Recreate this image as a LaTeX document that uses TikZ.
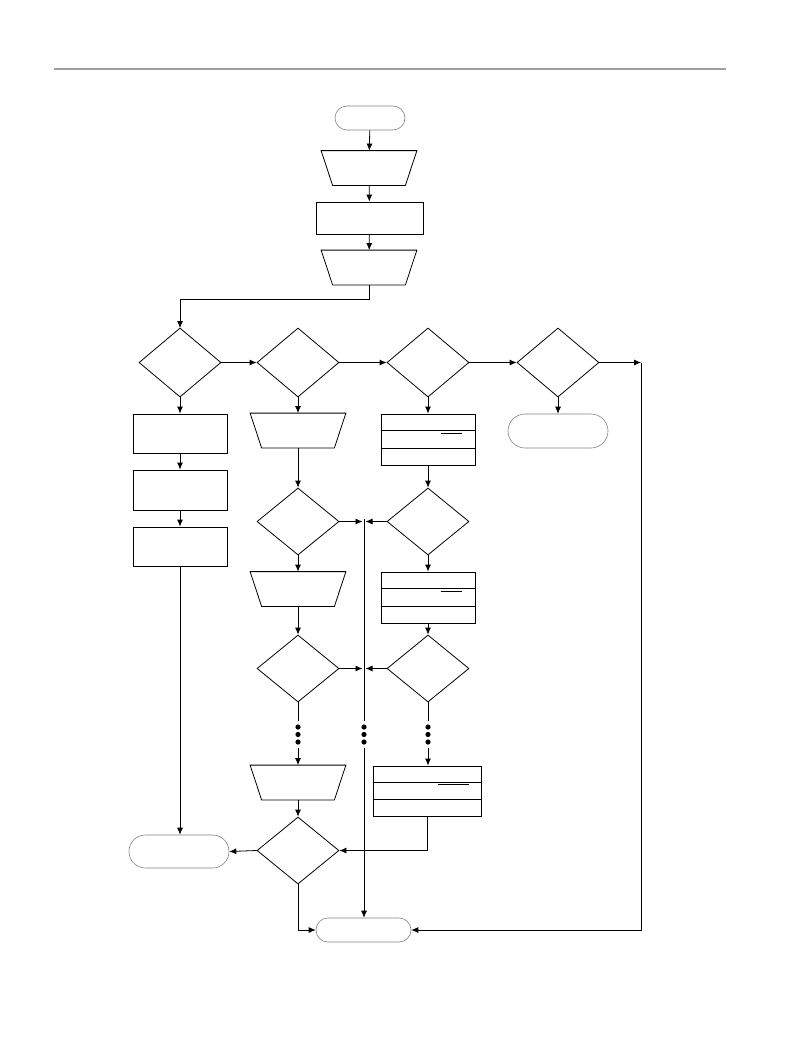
\documentclass[tikz,border=0pt]{standalone}
\usetikzlibrary{shapes.geometric,arrows.meta,calc}
\begin{document}
\begin{tikzpicture}[x=1pt,y=-1pt,line width=0.8pt,>={Latex[length=7pt,width=6pt]},
dec/.style={draw,diamond,minimum width=82pt,minimum height=69pt,inner sep=1pt},
iobox/.style={rectangle,inner sep=0pt,minimum width=95pt,minimum height=34pt},
proc/.style={draw,rectangle,inner sep=0pt,minimum width=94pt,minimum height=39pt},
term/.style={draw=gray,line width=0.6pt,rectangle,inner sep=0pt,rounded corners=#1},
term/.default=12pt]
\def\io#1#2{
\node[iobox] (#1) at (#2) {};
\draw (#1.north west) -- (#1.north east) -- ([xshift=-11.5pt]#1.south east) -- ([xshift=11.5pt]#1.south west) -- cycle;
}
\useasboundingbox (0,0) rectangle (802,1038);
\draw[gray!75,line width=1.6pt] (54,69) -- (726,69);
% top chain
\node[term,minimum width=70pt,minimum height=24pt] (sT) at (370,118) {};
\io{t1}{369,168}
\node[proc,minimum width=107pt,minimum height=32pt] (p0) at (369.5,218) {};
\io{t2}{369,267.5}
\draw[->] (sT) -- (t1);
\draw[->] (t1) -- (p0);
\draw[->] (p0) -- (t2);
\draw[->] (t2.south) -- ++(0,14) -| (180,328);
% decision row
\node[dec] (d1) at (180,362.5) {};
\node[dec] (d2) at (298,362.5) {};
\node[dec] (d3) at (428,362.5) {};
\node[dec] (d4) at (558,362.5) {};
\draw[->] (d1) -- (d2);
\draw[->] (d2) -- (d3);
\draw[->] (d3) -- (d4);
\coordinate (rc) at (641,362.5);
\draw[->] (d4.east) -- (rc);
% left column
\node[proc] (p1) at (180,433.5) {};
\node[proc,minimum height=40pt] (p2) at (180,490) {};
\node[proc] (p3) at (180,546.5) {};
\node[term=16.5pt,minimum width=100pt,minimum height=33pt] (lT) at (179,851.5) {};
\draw[->] (d1) -- (p1);
\draw[->] (p1) -- (p2);
\draw[->] (p2) -- (p3);
\draw[->] (p3.south) -- (p3.south |- lT.north);
% right terminal
\node[term=17pt,minimum width=100pt,minimum height=34pt] (rT) at (558,431) {};
\draw[->] (d4) -- (rT);
% second column
\io{tA}{298,430.5}
\node[dec,minimum height=67pt] (dB) at (298,521.5) {};
\io{tC}{298,589}
\node[dec,minimum height=67pt] (dD) at (298,668.5) {};
\io{tE}{298,782.5}
\node[dec,minimum height=67pt] (dF) at (298,850.5) {};
\draw[->] (d2) -- (tA);
\draw[->] (tA) -- (dB);
\draw[->] (dB) -- (tC);
\draw[->] (tC) -- (dD);
\draw[->] (tE) -- (dF);
\draw[->] (dF.west) -- (lT.east);
% third column
\node[proc,minimum height=51pt] (b1) at (428,439.5) {};
\node[dec,minimum height=67pt] (dG) at (428,521.5) {};
\node[proc,minimum height=51pt] (b2) at (428,597.5) {};
\node[dec,minimum height=67pt] (dH) at (428,668.5) {};
\node[proc,minimum width=108pt,minimum height=50pt] (b3) at (427,791) {};
\foreach \b in {b1,b2,b3}{
\draw ($(\b.north west)!1/3!(\b.south west)$) -- ($(\b.north east)!1/3!(\b.south east)$);
\draw ($(\b.north west)!2/3!(\b.south west)$) -- ($(\b.north east)!2/3!(\b.south east)$);
}
\draw[line width=0.6pt] ($(b1.north west)+(60,20)$) -- ($(b1.north west)+(81,20)$);
\draw[line width=0.6pt] ($(b2.north west)+(60,20)$) -- ($(b2.north west)+(81,20)$);
\draw[line width=0.6pt] ($(b3.north west)+(65,19)$) -- ($(b3.north west)+(96,19)$);
\draw[->] (d3) -- (b1);
\draw[->] (b1) -- (dG);
\draw[->] (dG) -- (b2);
\draw[->] (b2) -- (dH);
\draw[->] (b3.south) |- (dF.east);
% middle line and dots
\coordinate (vt) at (364,519);
\coordinate (m1) at (364,721);
\coordinate (m2) at (364,748);
\coordinate (a1) at (298,721);
\coordinate (a2) at (298,748);
\coordinate (c1) at (428,721);
\coordinate (c2) at (428,748);
\foreach \x in {298,364,428}
\foreach \y in {727,734.5,742}
\fill (\x,\y) circle (2.6pt);
\node[term,minimum width=95pt,minimum height=24pt] (eT) at (363.5,930) {};
\draw (vt) -- (m1);
\draw[->] (m2) -- (m2 |- eT.north);
\draw[->,shorten >=1.5pt] (dB.east) -- (dB.east -| vt);
\draw[->,shorten >=1.5pt] (dG.west) -- (dG.west -| vt);
\draw[->,shorten >=1.5pt] (dD.east) -- (dD.east -| vt);
\draw[->,shorten >=1.5pt] (dH.west) -- (dH.west -| vt);
\draw (dD.south) -- (a1);
\draw[->] (a2) -- (tE.north);
\draw (dH.south) -- (c1);
\draw[->] (c2) -- (c2 |- b3.north);
\draw[->] (dF.south) |- (eT.west);
\draw[->] (rc) -- (rc |- eT.east) -- (eT.east);
\end{tikzpicture}
\end{document}
